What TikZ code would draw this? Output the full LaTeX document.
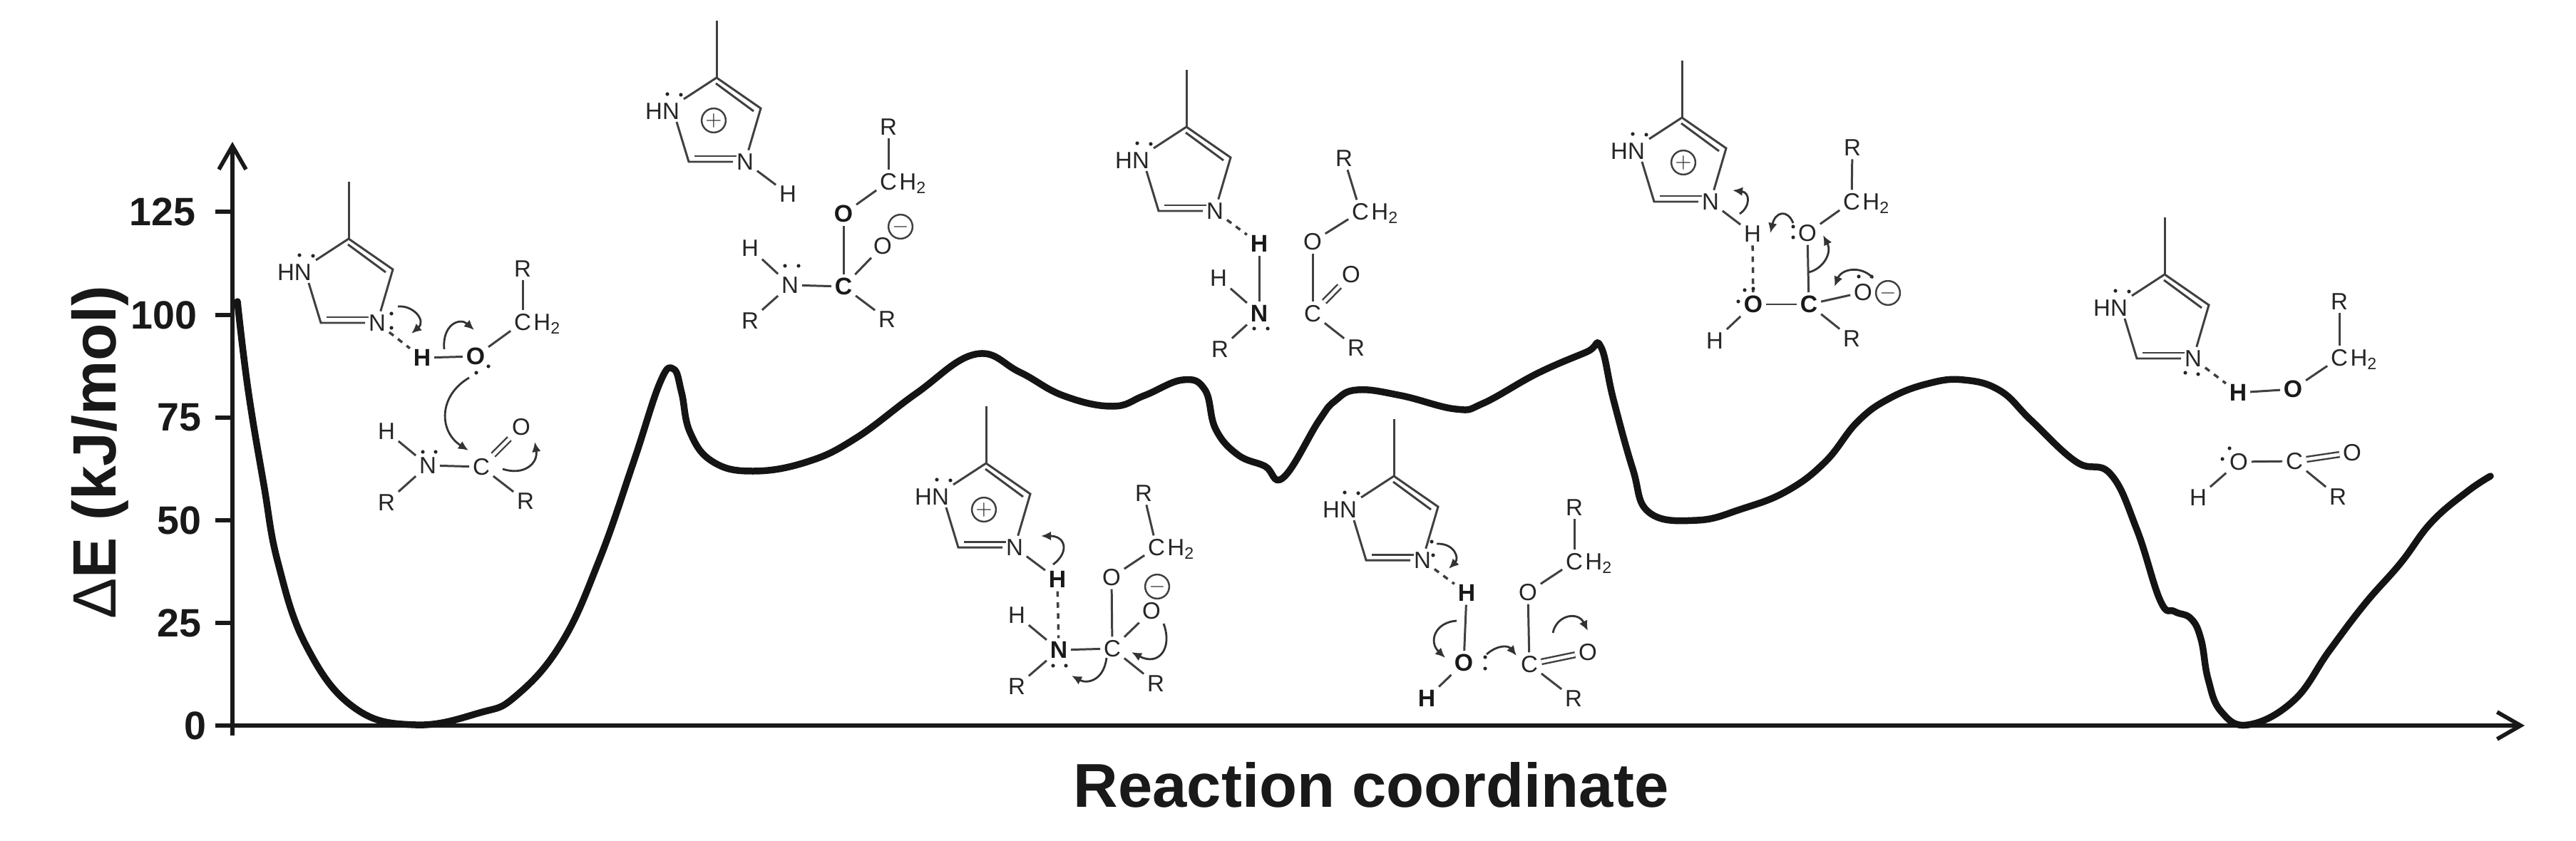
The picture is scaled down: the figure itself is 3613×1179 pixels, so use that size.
\documentclass[tikz,border=0pt]{standalone}
\usepackage{fontspec}
\setmainfont{Liberation Sans}
\usetikzlibrary{arrows.meta,positioning}
\tikzset{
	atom/.style={inner sep=1.2pt,font=\fontsize{9.4}{10}\selectfont,text=black!85},
	atomb/.style={atom,font=\fontsize{9.6}{10}\selectfont\bfseries,text=black!90},
	bond/.style={line width=0.85pt,draw=black!75},
	dbl/.style={bond,double,double distance=1.3pt,line width=0.7pt},
	hbond/.style={bond,line width=1pt,dash pattern=on 2.2pt off 2.2pt},
	chg/.style={circle,draw=black!75,line width=0.7pt,minimum size=9.6pt,inner sep=0pt,font=\footnotesize,text=black!80},
	curly/.style={line width=0.8pt,draw=black!80,-{Latex[length=4pt,width=3.6pt]}},
	lonedot/.style={fill=black!85},
	axisline/.style={line width=1.6pt,draw=black!90},
	ticklab/.style={inner sep=0pt,font=\fontsize{15.8}{16}\selectfont\bfseries,text=black!90},
	axislab/.style={inner sep=0pt,font=\fontsize{24.4}{26}\selectfont\bfseries,text=black!90},
	curve/.style={line width=2.7pt,draw=black!92,line join=round,line cap=round}
}
\newcommand{\imring}[3]{
	\begin{scope}[shift={(#2,#3)}]
		\coordinate (#1ra) at (0,0);
		\coordinate (#1rm) at (0,-80);
		\coordinate (#1rb) at (62,43);
		\coordinate (#1rc) at (-39,118);
		\coordinate (#1rd) at (-56,62);
		\coordinate (#1re) at (-46,30);
		\coordinate (#1rf) at (-1,8);
		\coordinate (#1rg) at (52,47);
		\coordinate (#1ri) at (-31,110);
		\coordinate (#1rj) at (28,110);
		\node[atom] (#1hn) at (-76,47) {HN};
		\node[atom] (#1n) at (40,118) {N};
		\draw[bond] (#1ra)--(#1rm);
		\draw[bond] (#1re)--(#1ra)--(#1rb)--(#1n);
		\draw[bond] (#1rd)--(#1rc)--(#1n);
		\draw[bond] (#1rf)--(#1rg);
		\draw[bond] (#1ri)--(#1rj);
		\foreach \dx/\dy in {-69/23,-50/24}{\fill[lonedot] (\dx,\dy) circle (2.6);}
	\end{scope}
}
\newcommand{\chtwo}[3]{
	\node[atom] (#1) at (#2,#3) {C};
	\node[atom,anchor=base west,inner sep=0pt,xshift=-0.6pt] (#1h) at (#1.base east) {H\textsubscript{2}};
}
\newcommand{\curly}[5]{
	\coordinate (#1s) at (#2);
	\coordinate (#1e) at (#5);
	\draw[curly] (#1s) .. controls (#3) and (#4) .. (#1e);
}
\begin{document}
\begin{tikzpicture}[x=0.01cm,y=-0.01cm]
	\useasboundingbox (0,0) rectangle (3613,1179);

	\coordinate (org) at (326,1018);
	\coordinate (ybot) at (326,1032);
	\coordinate (ytop) at (326,199);
	\coordinate (xend) at (3541,1018);
	\draw[axisline,-{Straight Barb[length=9.4pt,width=10.8pt]}] (ybot)--(ytop);
	\draw[axisline,-{Straight Barb[length=9.4pt,width=10.8pt]}] (org)--(xend);
	\foreach \val/\yy/\xr in {125/297/275,100/442/277,75/586/283,50/730/283,25/874/283,0/1018/290}{
		\coordinate (t\val) at (326,\yy);
		\draw[axisline] (t\val)--++(-24,0);
		\node[ticklab,anchor=east] (lab\val) at (\xr,\yy) {\val};
	}
	\node[axislab,rotate=90,anchor=base] (ylab) at (162,635) {{\mdseries Δ}E (kJ/mol)};
	\node[axislab,anchor=base,font=\fontsize{24.7}{26}\selectfont\bfseries] (xlab) at (1923,1132) {Reaction coordinate};

	\draw[curve] plot[smooth,tension=0.7] coordinates {
		(333,423) (348,547) (370,680) (390,790) (430,907) (497,993) (583,1017) (673,1000)
		(723,977) (787,903) (840,787) (888,650) (926,536) (945,518) (956,551) (968,607)
		(1000,648) (1056,661) (1132,648) (1200,615) (1285,552) (1368,497) (1430,522) (1491,555)
		(1560,570) (1605,555) (1659,533) (1690,547) (1705,602) (1736,638) (1774,654) (1800,670)
		(1850,590) (1873,562) (1904,547) (1965,555) (2042,574) (2080,566) (2156,524) (2225,494)
		(2245,486) (2263,561) (2290,658) (2313,719) (2380,730) (2443,714) (2506,689) (2560,648)
		(2605,592) (2650,559) (2705,538) (2754,533) (2805,548) (2849,590) (2912,648) (2960,665)
		(2997,743) (3030,843) (3050,858) (3073,868) (3087,897) (3097,953) (3115,998) (3153,1017)
		(3217,983) (3267,913) (3317,847) (3367,790) (3410,733) (3460,690) (3493,668)};

	\imring{pa}{489}{335}
	\node[atomb] (pah) at (592,502) {H};
	\node[atomb] (pao) at (667,500) {O};
	\node[atom] (par) at (733,377) {R};
	\chtwo{pach}{733}{452}
	\node[atom] (pan2) at (600,653) {N};
	\node[atom] (pahb) at (542,605) {H};
	\node[atom] (parb) at (542,705) {R};
	\node[atom] (pac) at (675,655) {C};
	\node[atom] (pao2) at (731,599) {O};
	\node[atom] (parc) at (737,703) {R};
	\draw[hbond] (pan)--(pah);
	\draw[bond] (pah)--(pao);
	\draw[bond] (pao)--(pach);
	\draw[bond] (par)--(pach);
	\draw[bond] (pahb)--(pan2);
	\draw[bond] (parb)--(pan2);
	\draw[bond] (pan2)--(pac);
	\draw[dbl] (pac)--(pao2);
	\draw[bond] (pac)--(parc);
	\foreach \dx/\dy in {549/440,549/460,668/523,685/514,593/634,611/634}{\fill[lonedot] (\dx,\dy) circle (2.6);}
	\curly{paa}{558,430}{580,428}{598,450}{577,468}
	\curly{pab}{623,490}{620,455}{645,445}{665,463}
	\curly{pad}{658,530}{615,555}{615,605}{657,632}
	\curly{paf}{705,658}{735,668}{755,650}{750,620}

	\imring{pb}{1005}{109}
	\node[chg] (pbp) at (1001,169) {$+$};
	\node[atom] (pbh) at (1105,272) {H};
	\node[atomb] (pbo) at (1183,300) {O};
	\node[atom] (pbr) at (1246,178) {R};
	\chtwo{pbch}{1246}{255}
	\node[atom] (pbo2) at (1238,345) {O};
	\node[chg] (pbm) at (1263,318) {$-$};
	\node[atomb] (pbc) at (1183,402) {C};
	\node[atom] (pbn2) at (1108,400) {N};
	\node[atom] (pbhb) at (1052,348) {H};
	\node[atom] (pbrb) at (1052,450) {R};
	\node[atom] (pbrc) at (1244,448) {R};
	\draw[bond] (pbn)--(pbh);
	\draw[bond] (pbo)--(pbch);
	\draw[bond] (pbr)--(pbch);
	\draw[bond] (pbo)--(pbc);
	\draw[bond] (pbc)--(pbo2);
	\draw[bond] (pbc)--(pbrc);
	\draw[bond] (pbn2)--(pbc);
	\draw[bond] (pbhb)--(pbn2);
	\draw[bond] (pbrb)--(pbn2);
	\foreach \dx/\dy in {1101/373,1120/373}{\fill[lonedot] (\dx,\dy) circle (2.6);}

	\imring{pc}{1664}{178}
	\node[atomb] (pch) at (1766,342) {H};
	\node[atomb] (pcn2) at (1766,440) {N};
	\node[atom] (pchb) at (1709,390) {H};
	\node[atom] (pcrb) at (1711,490) {R};
	\node[atom] (pco) at (1841,339) {O};
	\node[atom] (pcr) at (1885,222) {R};
	\chtwo{pcch}{1908}{297}
	\node[atom] (pcc) at (1841,440) {C};
	\node[atom] (pco2) at (1895,385) {O};
	\node[atom] (pcrc) at (1902,488) {R};
	\draw[hbond] (pcn)--(pch);
	\draw[bond] (pch)--(pcn2);
	\draw[bond] (pchb)--(pcn2);
	\draw[bond] (pcrb)--(pcn2);
	\draw[bond] (pcr)--(pcch);
	\draw[bond] (pco)--(pcch);
	\draw[bond] (pco)--(pcc);
	\draw[dbl] (pcc)--(pco2);
	\draw[bond] (pcc)--(pcrc);
	\foreach \dx/\dy in {1759/461,1778/461}{\fill[lonedot] (\dx,\dy) circle (2.6);}

	\imring{pd}{1383}{650}
	\node[chg] (pdp) at (1380,715) {$+$};
	\node[atomb] (pdh) at (1483,813) {H};
	\node[atomb] (pdn2) at (1485,912) {N};
	\node[atom] (pdhb) at (1426,863) {H};
	\node[atom] (pdrb) at (1426,963) {R};
	\node[atom] (pdc) at (1560,910) {C};
	\node[atom] (pdo) at (1559,810) {O};
	\node[atom] (pdr) at (1604,692) {R};
	\chtwo{pdch}{1622}{768}
	\node[atom] (pdo2) at (1615,857) {O};
	\node[chg] (pdm) at (1623,823) {$-$};
	\node[atom] (pdrc) at (1621,959) {R};
	\draw[bond] (pdn)--(pdh);
	\draw[hbond] (pdh)--(pdn2);
	\draw[bond] (pdhb)--(pdn2);
	\draw[bond] (pdrb)--(pdn2);
	\draw[bond] (pdn2)--(pdc);
	\draw[bond] (pdo)--(pdc);
	\draw[bond] (pdr)--(pdch);
	\draw[bond] (pdo)--(pdch);
	\draw[bond] (pdc)--(pdo2);
	\draw[bond] (pdc)--(pdrc);
	\foreach \dx/\dy in {1477/934,1495/934}{\fill[lonedot] (\dx,\dy) circle (2.6);}
	\curly{pda}{1477,792}{1500,775}{1495,752}{1460,752}
	\curly{pdb}{1632,875}{1645,910}{1625,935}{1587,915}
	\curly{pdd}{1552,923}{1548,955}{1525,960}{1503,948}

	\imring{pe}{1955}{668}
	\node[atomb] (peh) at (2057,832) {H};
	\node[atomb] (peo) at (2053,930) {O};
	\node[atomb] (pehb) at (2001,980) {H};
	\node[atom] (peo2) at (2143,831) {O};
	\node[atom] (pec) at (2145,932) {C};
	\node[atom] (peo3) at (2227,915) {O};
	\node[atom] (perc) at (2207,980) {R};
	\node[atom] (per) at (2208,712) {R};
	\chtwo{pech}{2208}{788}
	\draw[hbond] (pen)--(peh);
	\draw[bond] (peh)--(peo);
	\draw[bond] (peo)--(pehb);
	\draw[bond] (peo2)--(pec);
	\draw[dbl] (pec)--(peo3);
	\draw[bond] (pec)--(perc);
	\draw[bond] (per)--(pech);
	\draw[bond] (peo2)--(pech);
	\foreach \dx/\dy in {2008/760,2010/779,2083/922,2083/938}{\fill[lonedot] (\dx,\dy) circle (2.6);}
	\curly{pea}{2015,763}{2040,762}{2047,783}{2032,798}
	\curly{peb}{2085,918}{2100,905}{2115,905}{2127,920}
	\curly{ped}{2043,871}{2013,873}{2003,900}{2027,923}
	\curly{pef}{2178,888}{2183,863}{2213,857}{2227,885}

	\imring{pf}{2359}{165}
	\node[chg] (pfp) at (2361,228) {$+$};
	\node[atom] (pfh) at (2458,328) {H};
	\node[atom] (pfo) at (2535,327) {O};
	\node[atom] (pfr) at (2598,207) {R};
	\chtwo{pfch}{2597}{283}
	\node[atomb] (pfo2) at (2459,427) {O};
	\node[atom] (pfhb) at (2405,478) {H};
	\node[atomb] (pfc) at (2537,427) {C};
	\node[atom] (pfo3) at (2613,410) {O};
	\node[chg] (pfm) at (2648,411) {$-$};
	\node[atom] (pfrc) at (2597,475) {R};
	\draw[bond] (pfn)--(pfh);
	\draw[hbond] (pfh)--(pfo2);
	\draw[bond] (pfo)--(pfch);
	\draw[bond] (pfr)--(pfch);
	\draw[bond] (pfo)--(pfc);
	\draw[bond] (pfo2)--(pfc);
	\draw[bond] (pfo2)--(pfhb);
	\draw[bond] (pfc)--(pfo3);
	\draw[bond] (pfc)--(pfrc);
	\foreach \dx/\dy in {2515/318,2515/333,2447/407,2459/405,2438/423,2607/388,2625/388}{\fill[lonedot] (\dx,\dy) circle (2.6);}
	\curly{pfa}{2440,300}{2455,290}{2455,270}{2430,267}
	\curly{pfb}{2515,313}{2507,293}{2490,297}{2483,327}
	\curly{pfd}{2537,382}{2557,377}{2570,355}{2557,330}
	\curly{pff}{2627,390}{2610,372}{2583,377}{2573,402}

	\imring{pg}{3036}{385}
	\node[atomb] (pgh) at (3139,551) {H};
	\node[atomb] (pgo) at (3216,546) {O};
	\node[atom] (pgr) at (3281,423) {R};
	\chtwo{pgch}{3281}{502}
	\node[atom] (pgo2) at (3140,648) {O};
	\node[atom] (pgc) at (3218,647) {C};
	\node[atom] (pgo3) at (3299,635) {O};
	\node[atom] (pghb) at (3083,698) {H};
	\node[atom] (pgrc) at (3279,697) {R};
	\draw[hbond] (pgn)--(pgh);
	\draw[bond] (pgh)--(pgo);
	\draw[bond] (pgo)--(pgch);
	\draw[bond] (pgr)--(pgch);
	\draw[bond] (pgo2)--(pgc);
	\draw[dbl] (pgc)--(pgo3);
	\draw[bond] (pgc)--(pgrc);
	\draw[bond] (pgo2)--(pghb);
	\foreach \dx/\dy in {3065/523,3083/525,3127/629,3117/644}{\fill[lonedot] (\dx,\dy) circle (2.6);}
\end{tikzpicture}
\end{document}
